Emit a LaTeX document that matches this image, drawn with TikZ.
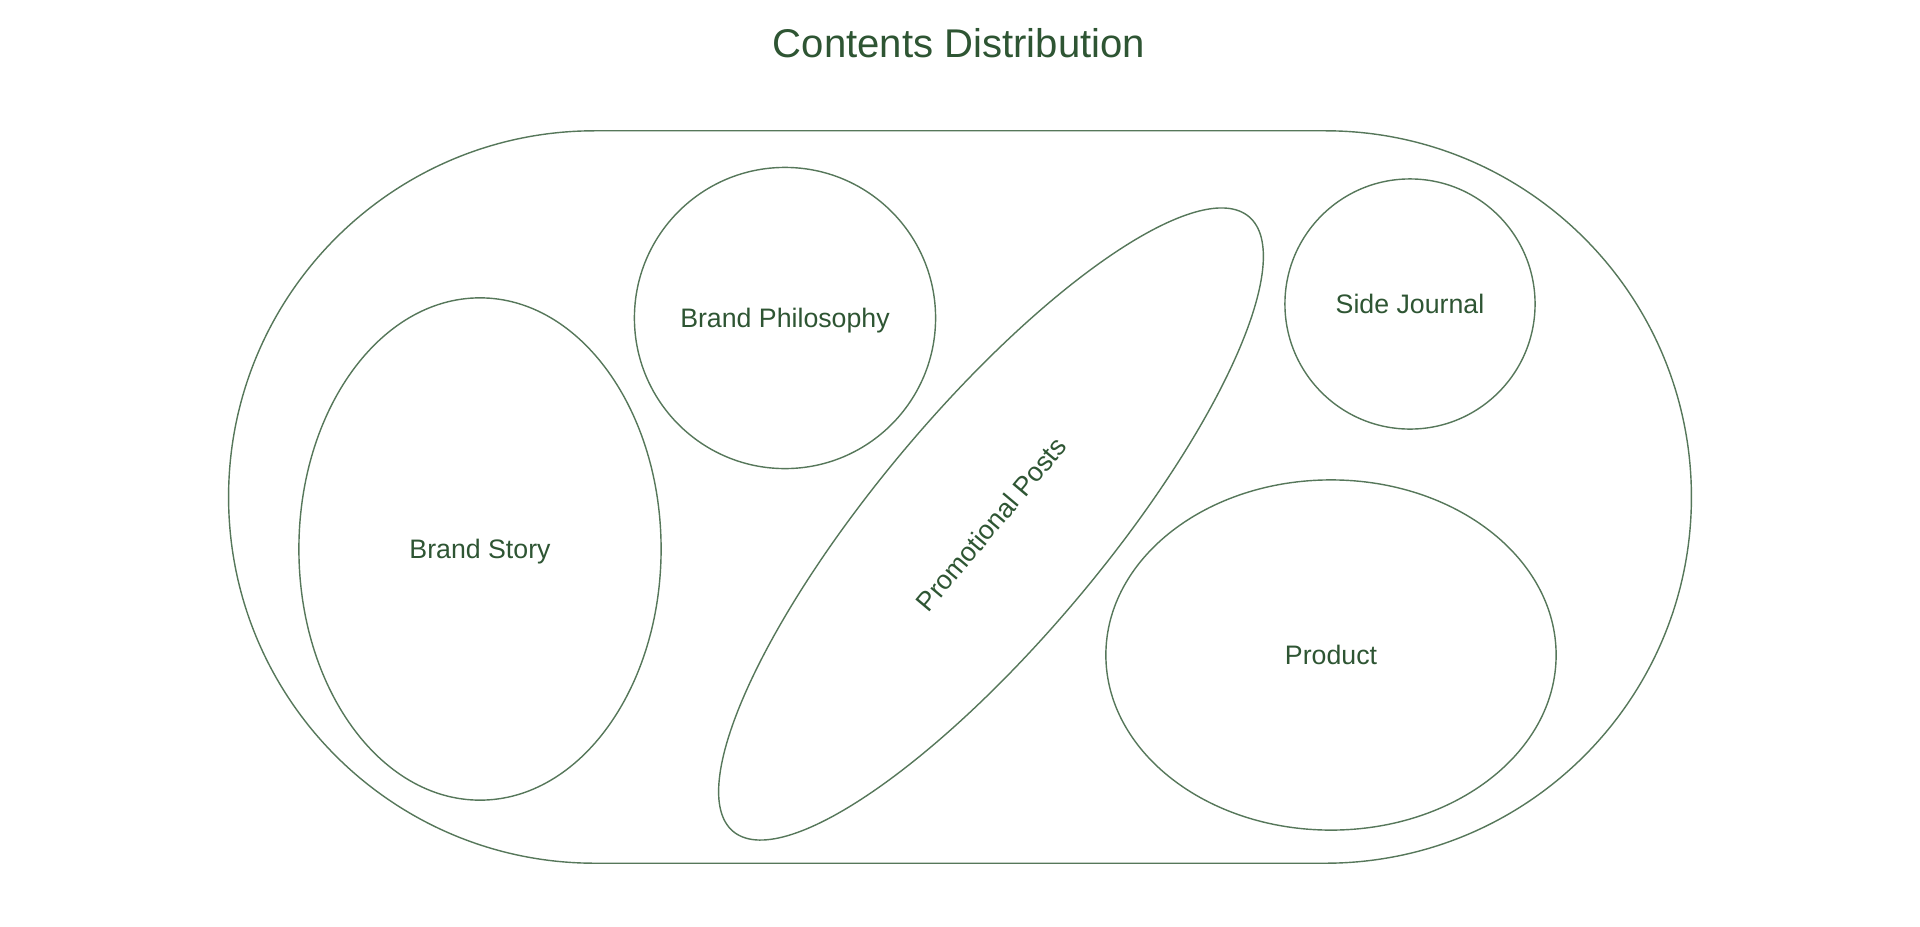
\documentclass[tikz,border=0pt]{standalone}
\usepackage{fontspec}
\setmainfont{Liberation Sans}
\usetikzlibrary{shapes.geometric,shapes.misc}
\definecolor{leafline}{HTML}{56775A}
\definecolor{leaftext}{HTML}{2E5533}
\begin{document}
\begin{tikzpicture}[
    x=0.01cm, y=-0.01cm,
    area/.style={draw=leafline, line width=0.4pt, inner sep=0pt, text=leaftext, font=\fontsize{7.6}{9}\selectfont, text depth=0pt, align=center},
    blob/.style={area, ellipse},
    ball/.style={area, circle},
    title/.style={text=leaftext, font=\fontsize{11.4}{13}\selectfont}
]
\useasboundingbox (0,0) rectangle (1920,927);

\node[title] (head) at (959,43) {Contents Distribution};

\node[area, rounded rectangle, minimum width=14.62cm, minimum height=7.32cm] (whole) at (960,497) {};

\node[blob, minimum width=3.62cm, minimum height=5.02cm] (story) at (480,549) {Brand Story};
\node[ball, minimum size=3.01cm] (philosophy) at (785,318) {Brand Philosophy};
\node[blob, minimum width=8.02cm, minimum height=2.28cm, rotate=50] (promo) at (991,524) {Promotional Posts};
\node[ball, minimum size=2.5cm] (journal) at (1410,304) {Side Journal};
\node[blob, minimum width=4.5cm, minimum height=3.5cm] (product) at (1331,655) {Product};

\end{tikzpicture}
\end{document}
